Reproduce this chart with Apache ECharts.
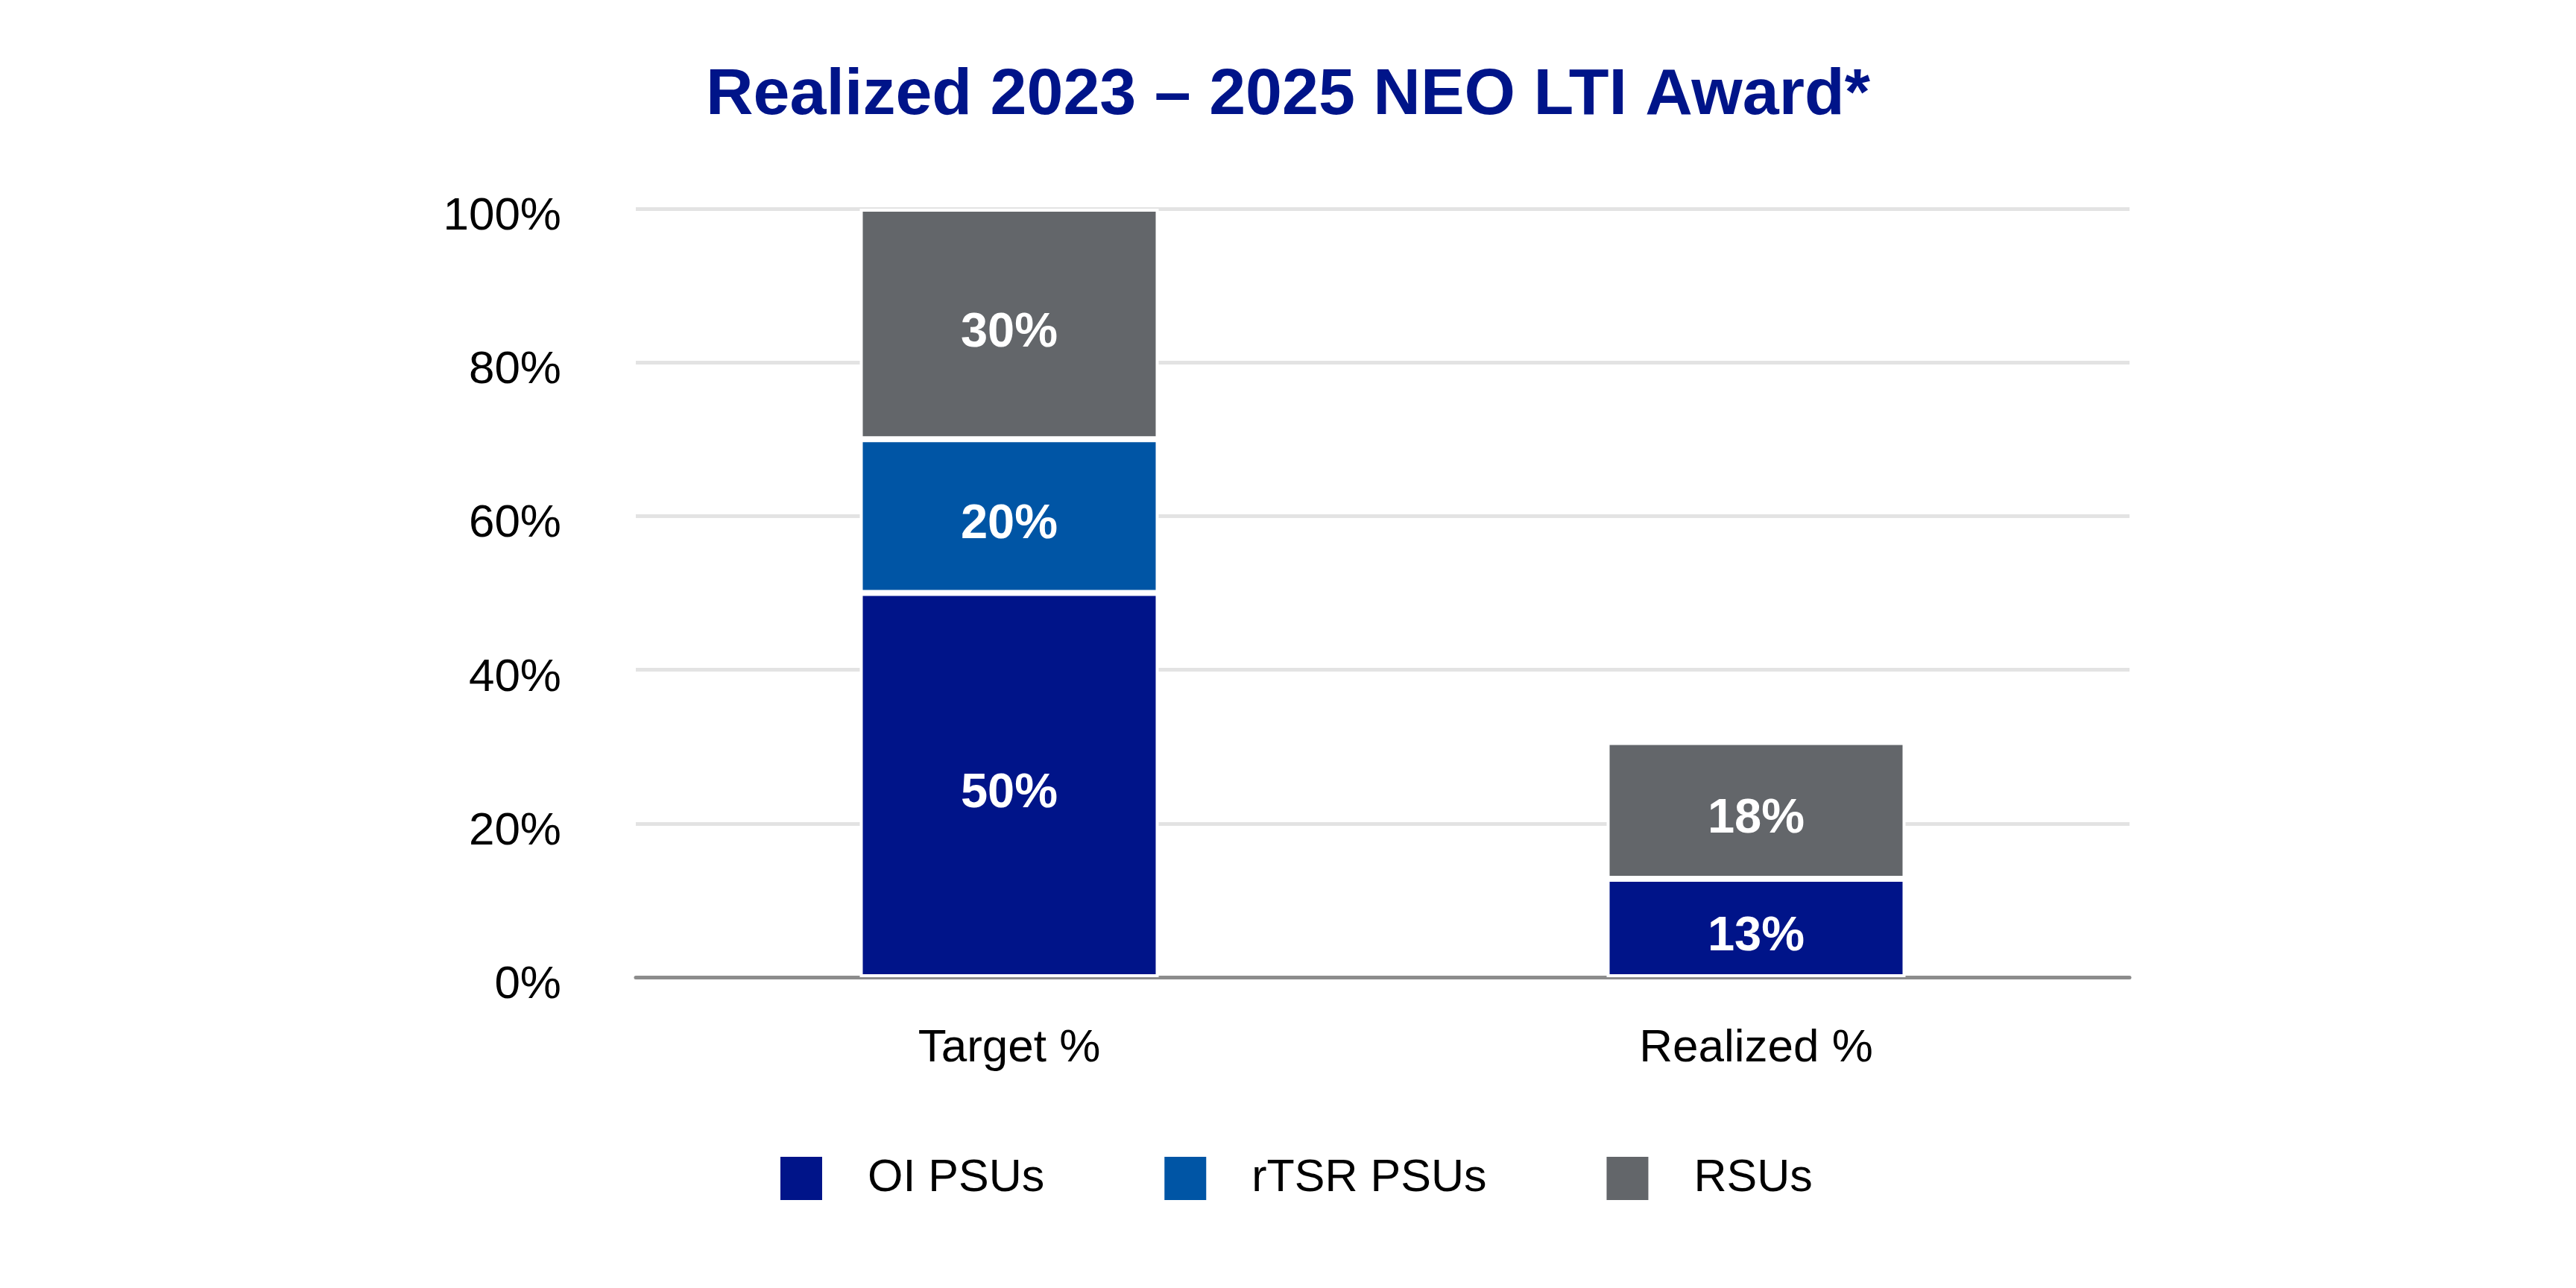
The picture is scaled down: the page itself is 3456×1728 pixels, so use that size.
<!DOCTYPE html>
<html>
<head>
<meta charset="utf-8">
<script src="https://cdn.jsdelivr.net/npm/echarts@6/dist/echarts.min.js"></script>
<style>
  html, body { margin: 0; padding: 0; background: #ffffff; }
  #chart { width: 3456px; height: 1728px; }
</style>
</head>
<body>
<div id="chart"></div>
<script>
const titleText = 'Realized 2023 \u2013 2025 NEO LTI Award*';
const categories = ['Target %', 'Realized %'];
const seriesNames = ['OI PSUs', 'rTSR PSUs', 'RSUs'];
const oiPsus = [50, 12.8];
const rtsrPsus = [20, 0];
const rsus = [30, 17.8];
const yTicks = [0, 20, 40, 60, 80, 100];
const colors = ['#001489', '#0055A5', '#63666A'];

const FONT = '"Liberation Sans", Arial, Helvetica, sans-serif';
const chart = echarts.init(document.getElementById('chart'));

function makeSeries(name, data, color) {
  return {
    name: name,
    type: 'bar',
    stack: 'total',
    data: data,
    barWidth: 401,
    itemStyle: { color: color, borderColor: '#ffffff', borderWidth: 4 },
    label: {
      show: true,
      position: 'inside',
      offset: [0, 12],
      color: '#ffffff',
      fontFamily: FONT,
      fontWeight: 'bold',
      fontSize: 65,
      formatter: p => (p.value ? Math.round(p.value) + '%' : '')
    }
  };
}

chart.setOption({
  backgroundColor: '#ffffff',
  animation: false,
  color: colors,
  title: {
    text: titleText,
    left: 'center',
    top: 85,
    padding: 0,
    textStyle: { color: '#001489', fontFamily: FONT, fontWeight: 'bold', fontSize: 88 }
  },
  legend: {
    data: seriesNames,
    left: 1040,
    top: 1545,
    itemWidth: 58,
    itemHeight: 60,
    itemGap: 159,
    icon: 'rect',
    textStyle: { color: '#000000', fontFamily: FONT, fontSize: 61, padding: [0, 0, 0, 55] }
  },
  grid: { left: 853, right: 599, top: 280, bottom: 417, containLabel: false },
  xAxis: {
    type: 'category',
    data: categories,
    axisLine: { show: true, lineStyle: { color: '#8c8c8c', width: 5 } },
    axisTick: { show: false },
    axisLabel: { color: '#000000', fontFamily: FONT, fontSize: 62, margin: 65 }
  },
  yAxis: {
    type: 'value',
    min: yTicks[0],
    max: yTicks[yTicks.length - 1],
    interval: yTicks[1] - yTicks[0],
    axisLine: { show: false },
    axisTick: { show: false },
    splitLine: { show: true, lineStyle: { color: '#e3e3e3', width: 5 } },
    axisLabel: {
      color: '#000000', fontFamily: FONT, fontSize: 62, margin: 100,
      verticalAlign: 'top', lineHeight: 22,
      formatter: '{value}%'
    }
  },
  series: [
    makeSeries(seriesNames[0], oiPsus, colors[0]),
    makeSeries(seriesNames[1], rtsrPsus, colors[1]),
    makeSeries(seriesNames[2], rsus, colors[2])
  ]
});
</script>
</body>
</html>
